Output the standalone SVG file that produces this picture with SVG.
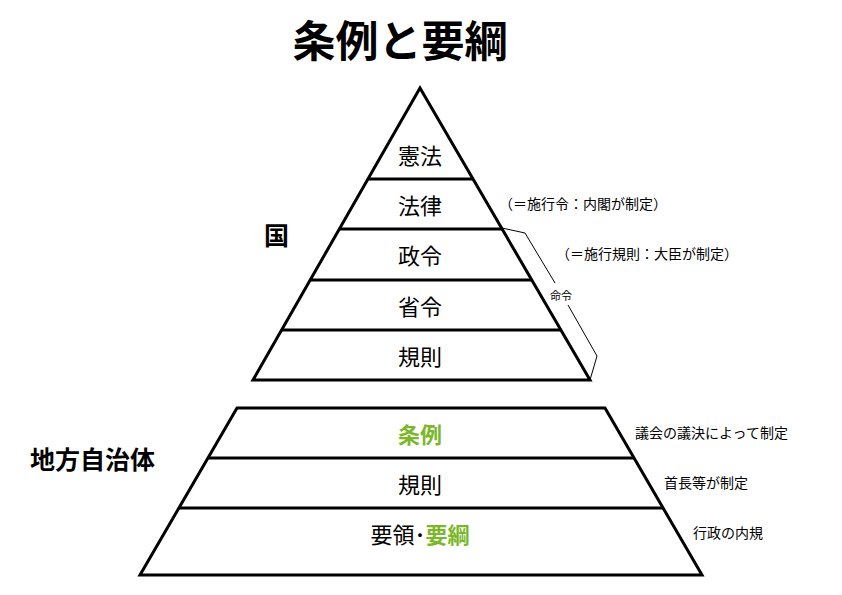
<svg xmlns="http://www.w3.org/2000/svg" width="842" height="595" viewBox="0 0 842 595">
<style>
text{font-family:"Noto Sans CJK JP","Noto Sans",sans-serif;fill:#000}
.l{font-size:22px;text-anchor:middle}
.n{font-size:14px}
.g{fill:#7ab829;font-weight:bold}
.s{fill:none;stroke:#000;stroke-width:3}
</style>
<rect width="842" height="595" fill="#fff"/>
<text x="400" y="57" font-size="43" font-weight="bold" text-anchor="middle">条例と要綱</text>
<g id="kuni">
<polygon class="s" points="420,88 590,380 253,380"/>
<line class="s" x1="368" y1="179" x2="473" y2="179"/>
<line class="s" x1="339" y1="229" x2="502" y2="229"/>
<line class="s" x1="310" y1="280" x2="532" y2="280"/>
<line class="s" x1="282" y1="330" x2="561" y2="330"/>
<text class="l" x="420" y="164">憲法</text>
<text class="l" x="420" y="214">法律</text>
<text class="l" x="420" y="264">政令</text>
<text class="l" x="420" y="315">省令</text>
<text class="l" x="420" y="365">規則</text>
<text x="264" y="245" font-size="25" font-weight="bold">国</text>
</g>
<g id="notes">
<text class="n" x="499" y="209">（＝施行令：内閣が制定）</text>
<text class="n" x="556" y="259">（＝施行規則：大臣が制定）</text>
<text x="550" y="300" font-size="11">命令</text>
</g>
<g id="connectors">
<polyline points="502,228 525,233 555,283" fill="none" stroke="#000" stroke-width="1"/>
<polyline points="568,305 597,356 590,380" fill="none" stroke="#000" stroke-width="1"/>
</g>
<g id="chiho">
<polygon class="s" points="237,408 605,408 702,575 140,575"/>
<line class="s" x1="208" y1="458" x2="634" y2="458"/>
<line class="s" x1="179" y1="508" x2="663" y2="508"/>
<text class="l g" x="420" y="443">条例</text>
<text class="l" x="420" y="493">規則</text>
<text class="l" x="420" y="543">要領<tspan>･</tspan><tspan class="g">要綱</tspan></text>
<text x="30" y="469" font-size="25" font-weight="bold">地方自治体</text>
<text class="n" x="635" y="438">議会の議決によって制定</text>
<text class="n" x="664" y="488">首長等が制定</text>
<text class="n" x="693" y="538">行政の内規</text>
</g>
</svg>
